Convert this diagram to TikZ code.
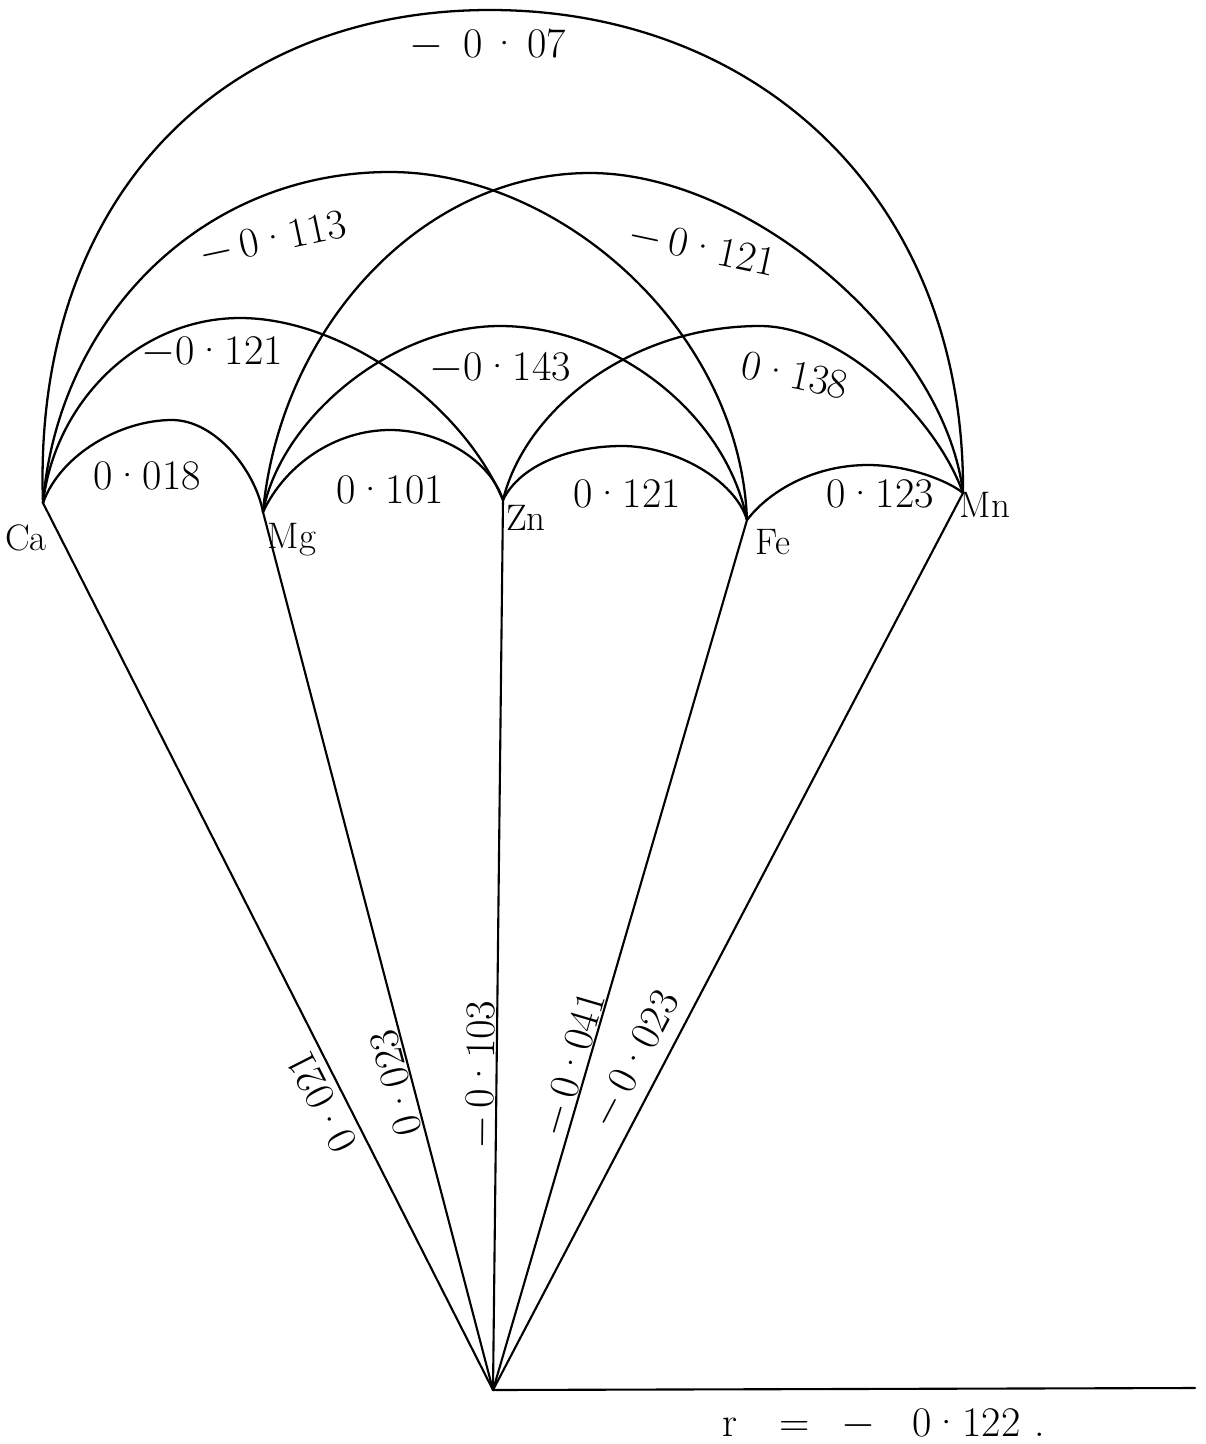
\documentclass[tikz,border=0pt]{standalone}
\begin{document}
\begin{tikzpicture}[x=0.02cm,y=-0.02cm,
  arc/.style={line width=1.3pt, line join=round, line cap=round},
  ray/.style={line width=1.2pt, line cap=round},
  lbl/.style={font=\fontsize{24}{28}\selectfont, inner sep=0pt},
  elem/.style={font=\fontsize{21}{24}\selectfont, inner sep=0pt}]
\useasboundingbox (0,0) rectangle (1205,1444);
\def\pd{\textperiodcentered}
% vertices
\coordinate (Ca) at (43,503);
\coordinate (Mg) at (263,512);
\coordinate (Zn) at (503,500);
\coordinate (Fe) at (747,520);
\coordinate (Mn) at (963,493);
\coordinate (O) at (493,1390);
\coordinate (E) at (1195,1388);
% arc tops
\coordinate (t1) at (172,420);
\coordinate (t2) at (390,430);
\coordinate (t3) at (622,446);
\coordinate (t4) at (868,465);
\coordinate (t5) at (240,318);
\coordinate (t6) at (500,326);
\coordinate (t7) at (760,326);
\coordinate (t8) at (390,172);
\coordinate (t9) at (590,173);
\coordinate (t10) at (490,10);
% element labels
\node[elem] (lCa) at (26,538) {Ca};
\node[elem] (lMg) at (292,540) {Mg};
\node[elem] (lZn) at (526,518) {Zn};
\node[elem] (lFe) at (773,542) {Fe};
\node[elem] (lMn) at (985,505) {Mn};
% rays
\draw[ray] (Ca) -- (O);
\draw[ray] (Mg) -- (O);
\draw[ray] (Zn) -- (O);
\draw[ray] (Fe) -- (O);
\draw[ray] (Mn) -- (O);
\draw[ray] (O) -- (E);
% arcs between neighbours
\draw[arc] (Ca) .. controls (60,455) and (120,420) .. (t1) .. controls (215,420) and (255,470) .. (Mg);
\draw[arc] (Mg) .. controls (285,465) and (335,430) .. (t2) .. controls (440,430) and (490,460) .. (Zn);
\draw[arc] (Zn) .. controls (520,465) and (570,446) .. (t3) .. controls (675,446) and (735,480) .. (Fe);
\draw[arc] (Fe) .. controls (770,490) and (815,465) .. (t4) .. controls (910,465) and (950,482) .. (Mn);
% second level
\draw[arc] (Ca) .. controls (55,400) and (140,318) .. (t5) .. controls (340,318) and (460,400) .. (Zn);
\draw[arc] (Mg) .. controls (280,420) and (390,326) .. (t6) .. controls (610,326) and (725,410) .. (Fe);
\draw[arc] (Zn) .. controls (525,410) and (630,326) .. (t7) .. controls (840,326) and (935,415) .. (Mn);
% third level
\draw[arc] (Ca) .. controls (58,320) and (200,172) .. (t8) .. controls (560,172) and (740,330) .. (Fe);
\draw[arc] (Mg) .. controls (280,330) and (420,173) .. (t9) .. controls (750,173) and (945,340) .. (Mn);
% outer arc
\draw[arc] (Ca) .. controls (32,200) and (220,10) .. (t10) .. controls (760,10) and (965,200) .. (Mn);
% arc labels
\node[lbl] (a1) at (147,476) {0\pd018};
\node[lbl] (a2) at (390,490) {0\pd101};
\node[lbl] (a3) at (627,494) {0\pd121};
\node[lbl] (a4) at (880,494) {0\pd123};
\node[lbl] (b1) at (212,352) {$-$0\pd121};
\node[lbl] (b2) at (500,368) {$-$0\pd143};
\node[lbl, rotate=-12] (b3) at (795,375) {0\pd138};
\node[lbl, rotate=12] (c1) at (273,240) {$-$\,0\pd113};
\node[lbl, rotate=-12] (c2) at (702,249) {$-$\,0\pd121};
\node[lbl] (d1) at (488,45) {$-$\ \,0\,\pd\,07};
% ray labels
\node[lbl, rotate=116.9] (r1) at (322,1102) {0\pd021};
\node[lbl, rotate=104.7] (r2) at (396,1083) {0\pd023};
\node[lbl, rotate=89.4] (r3) at (482,1075) {$-$\,0\pd103};
\node[lbl, rotate=73.7] (r4) at (573,1065) {$-$\,0\pd041};
\node[lbl, rotate=62.3] (r5) at (635,1060) {$-$\,0\pd023};
% result
\node[lbl, anchor=west] (res) at (722,1424) {r\hspace{0.84cm}=\hspace{0.64cm}$-$\hspace{0.74cm}0\pd122\hspace{0.28cm}.};
\end{tikzpicture}
\end{document}
